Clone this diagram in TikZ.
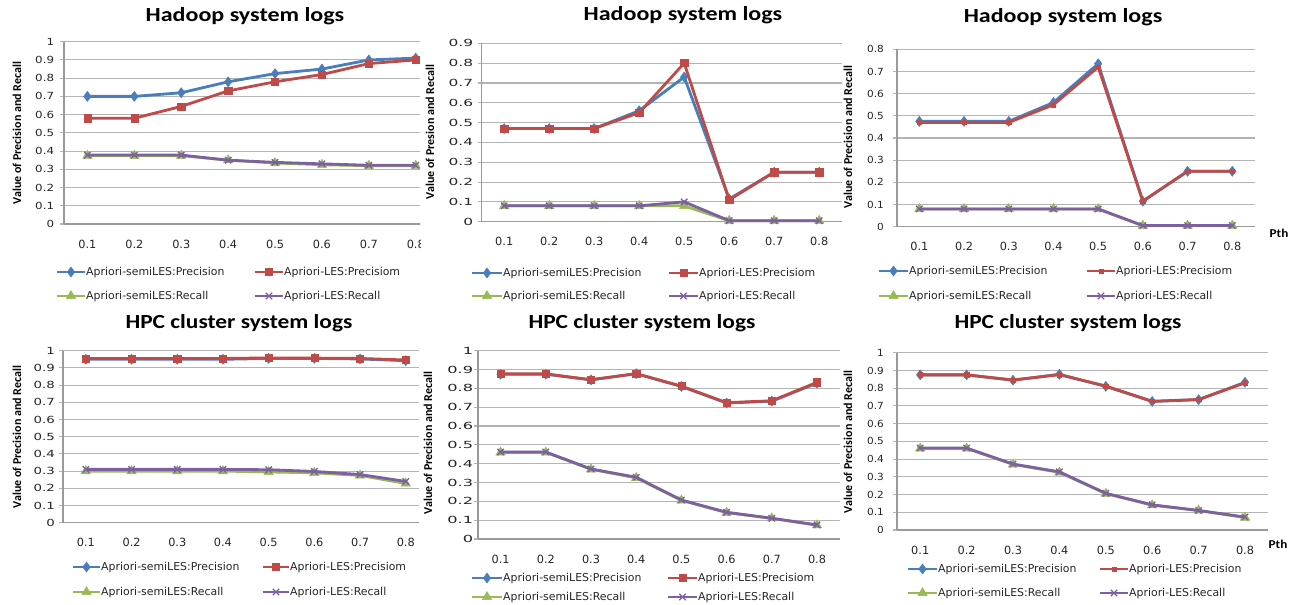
\documentclass[tikz,border=0pt]{standalone}
\usepackage{fontspec}
\setmainfont{DejaVu Sans}
\newfontfamily\calib{Carlito}
\usetikzlibrary{plotmarks}
\definecolor{serblue}{HTML}{4A7EBB}
\definecolor{serred}{HTML}{BE4B48}
\definecolor{sergreen}{HTML}{98B954}
\definecolor{serpurple}{HTML}{7D60A0}
\definecolor{gridgray}{HTML}{B4B4B4}
\definecolor{axisgray}{HTML}{9A9A9A}
\definecolor{labgray}{HTML}{262626}

% text stretched sideways, as in the exported charts
\newcommand{\wide}[2]{\scalebox{#1}[1]{#2}}

% one series of eight values at Pth = 0.1 ... 0.8
\newcommand{\prline}[9]{\draw[#1] plot coordinates {(0.5,#2) (1.5,#3) (2.5,#4) (3.5,#5) (4.5,#6) (5.5,#7) (6.5,#8) (7.5,#9)};}

% grid, axes and tick labels: ticks, grid end, name prefix, label stretch, label gap
\newcommand{\prframe}[5]{%
  \foreach \k in {0,...,#1}{
    \draw[gridline] ([xshift=-4pt]0,\k/10) -- (#2,\k/10);
    \node[yticklab] (#3y\k) at ([xshift=-#5pt]0,\k/10) {\wide{#4}{\ifnum\k=10 1\else\ifnum\k=0 0\else 0.\k\fi\fi}};
  }
  \draw[axisline] (0,0) -- (0,#1/10);
  \draw[axisline] (0,0) -- (#2,0);
  \foreach \k in {1,...,8}
    \node[xticklab, yshift=-20pt] (#3x\k) at (\k-0.5,0) {0.\k};
}

% legend entry: style, x1, x2, y, name, text
\newcommand{\legitem}[6]{%
  \draw[#1, mark indices={2}] plot coordinates {(#2,#4) ({(#2+#3)/2},#4) (#3,#4)};
  \node[legtext] (#5) at (#3,#4) {#6};
}

\begin{document}
\begin{tikzpicture}[
    x=1pt, y=-1pt,
    gridline/.style={gridgray, line width=1.1pt},
    axisline/.style={axisgray, line width=1.2pt},
    xticklab/.style={font=\fontsize{11.3}{13}\selectfont, text=labgray, inner sep=0pt},
    yticklab/.style={font=\fontsize{9.8}{12}\selectfont, text=labgray, inner sep=0pt, anchor=east},
    legtext/.style={font=\fontsize{10.9}{13}\selectfont, text=labgray, anchor=west, inner sep=1pt},
    charttitle/.style={font=\calib\bfseries\fontsize{20}{24}\selectfont},
    ylab/.style={font=\calib\bfseries\fontsize{12}{14}\selectfont, rotate=90},
    pthlab/.style={font=\calib\bfseries\fontsize{12}{14}\selectfont},
    semip/.style={serblue, line width=2.8pt, mark=diamond*, mark size=5pt, mark options={line width=0.5pt}},
    lesp/.style={serred, line width=2.8pt, mark=square*, mark size=3.6pt, mark options={line width=0.5pt}},
    lespsmall/.style={serred, line width=2.8pt, mark=square*, mark size=2.2pt, mark options={line width=0.5pt}},
    semir/.style={sergreen, line width=2.8pt, mark=triangle*, mark size=5.4pt, mark options={line width=0.5pt}},
    lesr/.style={serpurple, line width=2.8pt, mark=x, mark size=4.5pt, mark options={line width=1.3pt}}
]
\fill[white] (0,0) rectangle (1299,605);
\useasboundingbox (0,0) rectangle (1299,605);

% Hadoop, left
\node[charttitle] (t1) at (245,16) {\wide{1.2}{Hadoop system logs}};
\node[ylab] (yl1) at (17,133) {Value of Precision and Recall};
\begin{scope}
\clip (0,0) rectangle (420,300);
\begin{scope}[shift={(64,224)}, x=46.9pt, y=182.3pt]
  \prframe{10}{8}{a}{1.21}{9.7}
  \prline{semip}{0.7}{0.7}{0.72}{0.78}{0.825}{0.85}{0.9}{0.91}
  \prline{lesp}{0.58}{0.58}{0.645}{0.73}{0.78}{0.82}{0.88}{0.9}
  \prline{semir}{0.375}{0.375}{0.375}{0.35}{0.335}{0.325}{0.32}{0.32}
  \prline{lesr}{0.378}{0.378}{0.378}{0.35}{0.338}{0.33}{0.322}{0.322}
\end{scope}
\end{scope}
\legitem{semip}{57}{85}{272}{la1}{Apriori-semiLES:Precision}
\legitem{lesp}{255}{283}{272}{la2}{Apriori-LES:Precisiom}
\legitem{semir}{57}{85}{296}{la3}{Apriori-semiLES:Recall}
\legitem{lesr}{255}{283}{296}{la4}{Apriori-LES:Recall}

% Hadoop, middle
\node[charttitle] (t2) at (683,15) {\wide{1.2}{Hadoop system logs}};
\node[ylab] (yl2) at (430,132) {Value of Presion and Recall};
\begin{scope}[shift={(481.7,221.7)}, x=45pt, y=198.2pt]
  \prframe{9}{8}{b}{1.57}{8.4}
  \prline{semip}{0.47}{0.47}{0.47}{0.56}{0.73}{0.115}{0.25}{0.25}
  \prline{lesp}{0.47}{0.47}{0.47}{0.55}{0.8}{0.11}{0.25}{0.25}
  \prline{semir}{0.08}{0.08}{0.08}{0.08}{0.08}{0.005}{0.005}{0.005}
  \prline{lesr}{0.08}{0.08}{0.08}{0.08}{0.1}{0.005}{0.005}{0.005}
\end{scope}
\legitem{semip}{472}{502}{273}{lb1}{Apriori-semiLES:Precision}
\legitem{lesp}{669}{698}{273}{lb2}{Apriori-LES:Precisiom}
\legitem{semir}{472}{502}{296}{lb3}{Apriori-semiLES:Recall}
\legitem{lesr}{669}{698}{296}{lb4}{Apriori-LES:Recall}

% Hadoop, right
\node[charttitle] (t3) at (1063,17) {\wide{1.2}{Hadoop system logs}};
\node[ylab] (yl3) at (848,137) {Value of Precision and Recall};
\node[pthlab] (pth3) at (1279,233) {\wide{1.1}{Pth}};
\begin{scope}[shift={(897,226.7)}, x=44.7pt, y=221.75pt]
  \prframe{8}{8}{c}{1.07}{13}
  \prline{semip}{0.475}{0.475}{0.475}{0.56}{0.735}{0.115}{0.25}{0.25}
  \prline{lespsmall}{0.47}{0.47}{0.47}{0.55}{0.72}{0.115}{0.25}{0.25}
  \prline{semir}{0.08}{0.08}{0.08}{0.08}{0.08}{0.005}{0.005}{0.005}
  \prline{lesr}{0.08}{0.08}{0.08}{0.08}{0.08}{0.005}{0.005}{0.005}
\end{scope}
\legitem{semip}{879}{908}{271}{lc1}{Apriori-semiLES:Precision}
\legitem{lespsmall}{1087}{1115}{271}{lc2}{Apriori-LES:Precisiom}
\legitem{semir}{879}{908}{296}{lc3}{Apriori-semiLES:Recall}
\legitem{lesr}{1087}{1115}{296}{lc4}{Apriori-LES:Recall}

% HPC, left
\node[charttitle] (t4) at (239,323) {\wide{1.17}{HPC cluster system logs}};
\node[ylab] (yl4) at (17,437) {Value of Precision and Recall};
\begin{scope}[shift={(63,522.7)}, x=45.7pt, y=172pt]
  \prframe{10}{7.79}{d}{1.36}{8}
  \prline{semip}{0.95}{0.95}{0.95}{0.95}{0.955}{0.955}{0.952}{0.942}
  \prline{lesp}{0.955}{0.955}{0.955}{0.955}{0.958}{0.957}{0.955}{0.946}
  \prline{semir}{0.3}{0.3}{0.3}{0.3}{0.295}{0.29}{0.275}{0.228}
  \prline{lesr}{0.31}{0.31}{0.31}{0.31}{0.308}{0.298}{0.28}{0.24}
\end{scope}
\legitem{semip}{73}{100}{567}{ld1}{Apriori-semiLES:Precision}
\legitem{lesp}{263}{289}{567}{ld2}{Apriori-LES:Precisiom}
\legitem{semir}{73}{100}{592}{ld3}{Apriori-semiLES:Recall}
\legitem{lesr}{263}{289}{592}{ld4}{Apriori-LES:Recall}

% HPC, middle
\node[charttitle] (t5) at (642,323) {\wide{1.17}{HPC cluster system logs}};
\node[ylab] (yl5) at (428,443) {Value of Precision and Recall};
\begin{scope}[shift={(478,539)}, x=45.2pt, y=188.3pt]
  \prframe{10}{8}{e}{1.65}{4.7}
  \prline{semip}{0.875}{0.875}{0.845}{0.878}{0.81}{0.722}{0.732}{0.828}
  \prline{lesp}{0.877}{0.877}{0.846}{0.878}{0.812}{0.724}{0.734}{0.832}
  \prline{semir}{0.46}{0.46}{0.37}{0.325}{0.205}{0.14}{0.11}{0.073}
  \prline{lesr}{0.462}{0.462}{0.372}{0.328}{0.207}{0.142}{0.11}{0.075}
\end{scope}
\legitem{semip}{472}{502}{578}{le1}{Apriori-semiLES:Precision}
\legitem{lesp}{668}{697}{578}{le2}{Apriori-LES:Precisiom}
\legitem{semir}{472}{502}{597}{le3}{Apriori-semiLES:Recall}
\legitem{lesr}{668}{697}{597}{le4}{Apriori-LES:Recall}

% HPC, right
\node[charttitle] (t6) at (1068,323) {\wide{1.17}{HPC cluster system logs}};
\node[ylab] (yl6) at (848,442) {Value of Precision and Recall};
\node[pthlab] (pth6) at (1278,544) {\wide{1.1}{Pth}};
\begin{scope}[shift={(897,530)}, x=46.4pt, y=177.3pt]
  \prframe{10}{8}{f}{1.07}{13}
  \prline{semip}{0.875}{0.875}{0.845}{0.878}{0.81}{0.725}{0.735}{0.833}
  \prline{lespsmall}{0.875}{0.875}{0.846}{0.876}{0.812}{0.726}{0.736}{0.83}
  \prline{semir}{0.46}{0.46}{0.37}{0.325}{0.205}{0.14}{0.11}{0.07}
  \prline{lesr}{0.462}{0.462}{0.372}{0.328}{0.207}{0.142}{0.11}{0.073}
\end{scope}
\legitem{semip}{908}{937}{569}{lf1}{Apriori-semiLES:Precision}
\legitem{lespsmall}{1100}{1128}{569}{lf2}{Apriori-LES:Precision}
\legitem{semir}{908}{937}{593}{lf3}{Apriori-semiLES:Recall}
\legitem{lesr}{1100}{1128}{593}{lf4}{Apriori-LES:Recall}
\end{tikzpicture}
\end{document}
